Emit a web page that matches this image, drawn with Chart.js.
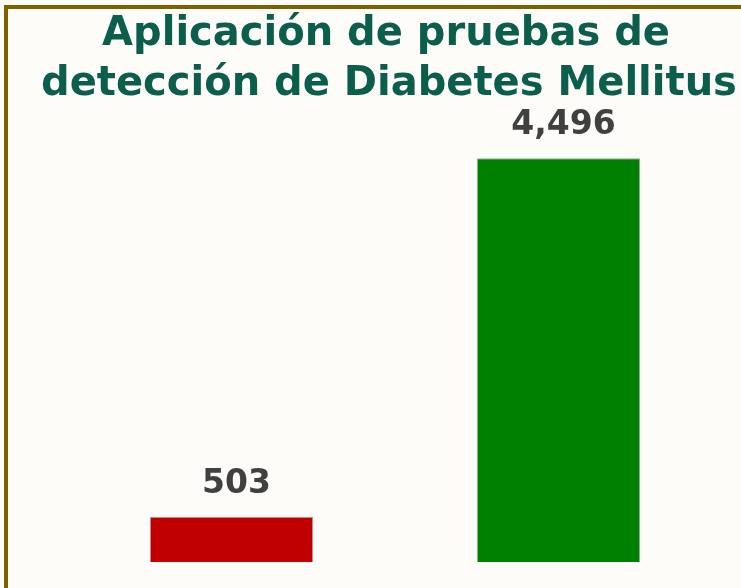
<!DOCTYPE html>
<html>
<head>
<meta charset="utf-8">
<script src="https://cdn.jsdelivr.net/npm/chart.js@4.4.1/dist/chart.umd.min.js"></script>
<style>
  html, body { margin: 0; padding: 0; background: #fefcf9; }
  #wrap { position: relative; width: 741px; height: 588px; overflow: hidden; }
  #frame {
    position: absolute; left: 4px; top: 5px; right: -10px; bottom: -10px;
    border-left: 4px solid #7f6000; border-top: 4px solid #7f6000;
    pointer-events: none;
  }
  canvas { position: absolute; left: 0; top: 0; }
</style>
</head>
<body>
<div id="wrap">
  <canvas id="chart" width="741" height="588"></canvas>
  <div id="frame"></div>
</div>
<script>
  // Data
  const categories = ['2020', '2021'];
  const testValues = [503, 4496];
  const barColors = ['#c00000', '#008000'];
  const titleLines = ['Aplicación de pruebas de', 'detección de Diabetes Mellitus'];

  document.addEventListener('DOMContentLoaded', function() {
    // Title drawn on top of the canvas
    const titlePlugin = {
      id: 'bigTitle',
      afterDraw(chart) {
        const ctx = chart.ctx;
        ctx.save();
        ctx.fillStyle = '#0b5e4c';
        ctx.font = 'bold 40px "DejaVu Sans"';
        ctx.textAlign = 'center';
        ctx.textBaseline = 'alphabetic';
        ctx.fillText(titleLines[0], 386, 45);
        ctx.fillText(titleLines[1], 389, 95);
        ctx.restore();
      }
    };

    // Value labels above each bar
    const valueLabels = {
      id: 'valueLabels',
      afterDatasetsDraw(chart) {
        const ctx = chart.ctx;
        const meta = chart.getDatasetMeta(0);
        ctx.save();
        ctx.fillStyle = '#404040';
        ctx.font = 'bold 33px "DejaVu Sans"';
        ctx.textAlign = 'center';
        ctx.textBaseline = 'alphabetic';
        meta.data.forEach((bar, i) => {
          ctx.fillText(testValues[i].toLocaleString('en-US'), bar.x + 5, bar.y - 24);
        });
        ctx.restore();
      }
    };

    const ctx = document.getElementById('chart').getContext('2d');
    new Chart(ctx, {
      type: 'bar',
      data: {
        labels: categories,
        datasets: [{
          data: testValues,
          backgroundColor: barColors,
          borderColor: 'rgba(110,110,110,0.6)',
          borderWidth: 1,
          barPercentage: 0.5,
          categoryPercentage: 1
        }]
      },
      options: {
        responsive: false,
        animation: false,
        layout: { padding: { top: 113, left: 68, right: 19, bottom: 26 } },
        plugins: {
          legend: { display: false },
          tooltip: { enabled: false },
          title: { display: false }
        },
        scales: {
          x: { display: false },
          y: { display: false, min: 0, max: 5000 }
        }
      },
      plugins: [titlePlugin, valueLabels]
    });
  });
</script>
</body>
</html>
